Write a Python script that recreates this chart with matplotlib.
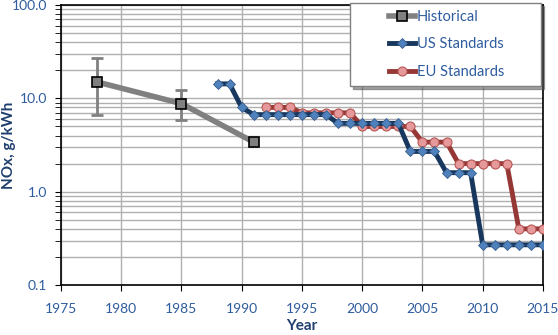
import numpy as np
import matplotlib.pyplot as plt
from matplotlib.ticker import FixedLocator, LogLocator, NullFormatter
from matplotlib.legend_handler import HandlerLine2D

plt.rcParams['font.family'] = ['Lato', 'DejaVu Sans']

hist_year = [1978, 1985, 1991]
hist_val = [15.0, 8.8, 3.4]
hist_err_lo = [8.4, 3.0, 0.0]
hist_err_hi = [12.0, 3.5, 0.0]

us_year = list(range(1988, 2016))
us_val = [14.3, 14.3, 8.0, 6.7, 6.7, 6.7, 6.7, 6.7, 6.7, 6.7,
          5.4, 5.4, 5.4, 5.4, 5.4, 5.4, 2.7, 2.7, 2.7, 1.6,
          1.6, 1.6, 0.27, 0.27, 0.27, 0.27, 0.27, 0.27]

eu_year = list(range(1992, 2016))
eu_val = [8.0, 8.0, 8.0, 7.0, 7.0, 7.0, 7.0, 7.0, 5.0, 5.0,
          5.0, 5.0, 5.0, 3.4, 3.4, 3.4, 2.0, 2.0, 2.0, 2.0,
          2.0, 0.4, 0.4, 0.4]

tick_col = '#2E5C9E'
label_col = '#1F3F6E'


# legend handle pushed to the right part of the handle box
class RightHandle(HandlerLine2D):
    def get_xdata(self, legend, xdescent, ydescent, width, height, fontsize):
        x0 = -xdescent + width * 0.55
        x1 = -xdescent + width
        return np.array([x0, x1]), np.array([(x0 + x1) / 2])


fig = plt.figure(figsize=(5.58, 3.35), dpi=100)
ax = fig.add_axes([0.109, 0.149, 0.864, 0.836])

ax.plot(hist_year, hist_val, color='#808080', lw=4, marker='s', ms=7,
        mfc='#808080', mec='black', mew=1.2, label='Historical', zorder=3)
ax.errorbar(hist_year[:2], hist_val[:2], yerr=[hist_err_lo[:2], hist_err_hi[:2]],
            fmt='none', ecolor='#808080', elinewidth=2, capsize=4, capthick=2, zorder=2)
ax.plot(us_year, us_val, color='#17375E', lw=3.5, marker='D', ms=5,
        mfc='#4F81BD', mec='#385D8A', mew=0.6, label='US Standards', zorder=4)
ax.plot(eu_year, eu_val, color='#953735', lw=3.5, marker='o', ms=6.5,
        mfc='#E6999A', mec='#B65654', mew=0.8, label='EU Standards', zorder=3)

ax.set_yscale('log')
ax.set_ylim(0.1, 100)
ax.set_xlim(1975, 2015)
ax.xaxis.set_major_locator(FixedLocator(np.arange(1975, 2016, 5)))
ax.yaxis.set_major_locator(FixedLocator([0.1, 1, 10, 100]))
ax.yaxis.set_minor_locator(LogLocator(base=10, subs=np.arange(2, 10)))
ax.yaxis.set_minor_formatter(NullFormatter())
ax.set_yticklabels(['0.1', '1.0', '10.0', '100.0'])

ax.grid(True, which='major', color='#B0B0B0', lw=1)
ax.grid(True, which='minor', axis='y', color='#B0B0B0', lw=1)
ax.set_axisbelow(True)
for s in ax.spines.values():
    s.set_color('black')
    s.set_linewidth(1.2)

ax.tick_params(axis='both', which='major', labelsize=10, labelcolor=tick_col,
               direction='out', length=4, color='black')
ax.tick_params(axis='y', which='minor', direction='out', length=4, color='black')
ax.tick_params(axis='x', which='major', pad=9)
ax.tick_params(axis='y', which='major', pad=6)

ax.set_xlabel('Year', fontsize=11, fontweight='bold', color=label_col)
ax.xaxis.set_label_coords(0.5, -0.12)
ax.set_ylabel('NOx, g/kWh', fontsize=11, fontweight='bold', color=label_col)
ax.yaxis.set_label_coords(-0.092, 0.5)

leg = ax.legend(loc='upper left', bbox_to_anchor=(0.5996, 0, 0.396, 1.007),
                mode='expand', fontsize=10.5,
                frameon=True, fancybox=False, shadow=True, borderpad=0.45,
                labelspacing=0.95, handlelength=4.0, handletextpad=0.15,
                borderaxespad=0,
                handler_map={plt.Line2D: RightHandle()})
leg.get_frame().set_edgecolor('#808080')
leg.get_frame().set_linewidth(1)
for t in leg.get_texts():
    t.set_color(tick_col)

fig.savefig('out.png', dpi=100)
